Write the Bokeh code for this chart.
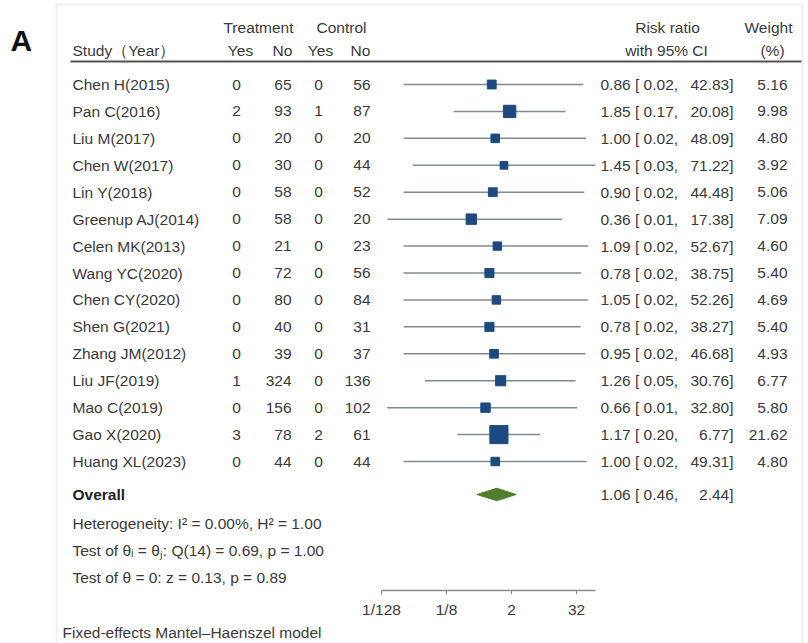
from bokeh.plotting import figure
from bokeh.models import (Range1d, LogScale, LogAxis, FixedTicker, ColumnDataSource,
                          BoxAnnotation)
from bokeh.core.properties import value
from bokeh.embed import file_html
from bokeh.resources import INLINE

# ---- study data -------------------------------------------------------------
studies = ["Chen H(2015)", "Pan C(2016)", "Liu M(2017)", "Chen W(2017)", "Lin Y(2018)",
           "Greenup AJ(2014)", "Celen MK(2013)", "Wang YC(2020)", "Chen CY(2020)",
           "Shen G(2021)", "Zhang JM(2012)", "Liu JF(2019)", "Mao C(2019)",
           "Gao X(2020)", "Huang XL(2023)"]
treat_yes = [0, 2, 0, 0, 0, 0, 0, 0, 0, 0, 0, 1, 0, 3, 0]
treat_no = [65, 93, 20, 30, 58, 58, 21, 72, 80, 40, 39, 324, 156, 78, 44]
ctrl_yes = [0, 1, 0, 0, 0, 0, 0, 0, 0, 0, 0, 0, 0, 2, 0]
ctrl_no = [56, 87, 20, 44, 52, 20, 23, 56, 84, 31, 37, 136, 102, 61, 44]
risk_ratio = [0.86, 1.85, 1.00, 1.45, 0.90, 0.36, 1.09, 0.78, 1.05, 0.78, 0.95, 1.26, 0.66, 1.17, 1.00]
ci_low = [0.02, 0.17, 0.02, 0.03, 0.02, 0.01, 0.02, 0.02, 0.02, 0.02, 0.02, 0.05, 0.01, 0.20, 0.02]
ci_high = [42.83, 20.08, 48.09, 71.22, 44.48, 17.38, 52.67, 38.75, 52.26, 38.27, 46.68, 30.76, 32.80, 6.77, 49.31]
weight = [5.16, 9.98, 4.80, 3.92, 5.06, 7.09, 4.60, 5.40, 4.69, 5.40, 4.93, 6.77, 5.80, 21.62, 4.80]

overall_rr, overall_low, overall_high = 1.06, 0.46, 2.44
axis_ticks = [1 / 128, 1 / 8, 2, 32]
axis_tick_labels = ["1/128", "1/8", "2", "32"]

# ---- layout -------------------------------------------------------------------
W, H = 808, 643
ROW_H = 26.93          # vertical distance between study rows (px)
FIRST_ROW_PX = 84      # pixel height of the first study row


def row_at(px):
    """Row units for a pixel height on the page (used for header/footer text)."""
    return 1 + (px - FIRST_ROW_PX) / ROW_H


FONT = value("Liberation Sans")
TXT = "#3a3a3a"
FS = "15.5px"

p = figure(width=W, height=H, x_range=Range1d(0, W),
           y_range=Range1d(row_at(H), row_at(0)),
           x_axis_type=None, y_axis_type=None,
           output_backend="svg", toolbar_location=None, min_border=0)
p.outline_line_color = None
p.background_fill_color = "white"
p.border_fill_color = "white"

# log scale for risk ratios: 1/128 sits at x=381 px, 16.25 px per doubling
PX0, PX_PER_LOG2 = 381.0, 16.25
p.extra_x_ranges = {"rr": Range1d(2 ** (-7 - PX0 / PX_PER_LOG2),
                                  2 ** (-7 + (W - PX0) / PX_PER_LOG2))}
p.extra_x_scales = {"rr": LogScale()}

# frame around the panel
p.add_layout(BoxAnnotation(left=56, right=802, top=row_at(4), bottom=row_at(H + 10),
                           fill_alpha=0, line_color="#c3d0df", line_width=2))

n = len(studies)
rows = list(range(1, n + 1))
overall_row = row_at(494)

src = ColumnDataSource(dict(
    study=studies, row=rows,
    ty=[str(v) for v in treat_yes], tn=[str(v) for v in treat_no],
    cy=[str(v) for v in ctrl_yes], cn=[str(v) for v in ctrl_no],
    rr=risk_ratio, lo=ci_low, hi=ci_high,
    ci_left=[f"{r:.2f} [{l:5.2f}," for r, l in zip(risk_ratio, ci_low)],
    ci_right=[f"{h:.2f}]" for h in ci_high],
    w=[f"{v:.2f}" for v in weight],
    msize=[3.9 * v ** 0.5 for v in weight],
))


def txt(x, y, text, align="left", size=FS, style="normal", color=TXT, source=None):
    kw = dict(text_font=FONT, text_font_size=size, text_align=align,
              text_baseline="middle", text_color=color, text_font_style=style)
    if source is not None:
        p.text(x=x, y=y, text=text, source=source, **kw)
    else:
        p.text(x=[x], y=[y], text=[text], **kw)


# panel letter
txt(10, row_at(40), "A", size="30px", style="bold", color="#111111")

# header
h1, h2 = row_at(27), row_at(50)
txt(258, h1, "Treatment", "center")
txt(341, h1, "Control", "center")
txt(72, h2, "Study（Year）")
txt(240, h2, "Yes", "center")
txt(282, h2, "No", "center")
txt(320, h2, "Yes", "center")
txt(360, h2, "No", "center")
txt(667, h1, "Risk ratio", "center")
txt(666, h2, "with 95% CI", "center")
txt(768, h1, "Weight", "center")
txt(772, h2, "(%)", "center")
hl = row_at(61)
p.line(x=[70, 801], y=[hl, hl], line_color="#555555", line_width=2)

# study columns
txt(72, "row", "study", source=src)
txt(236, "row", "ty", "center", source=src)
txt(291, "row", "tn", "right", source=src)
txt(318, "row", "cy", "center", source=src)
txt(370, "row", "cn", "right", source=src)
txt(600, "row", "ci_left", source=src)
txt(733, "row", "ci_right", "right", source=src)
txt(787, "row", "w", "right", source=src)

# confidence intervals and weighted point estimates
p.segment(x0="lo", y0="row", x1="hi", y1="row", source=src, x_range_name="rr",
          line_color="#808a94", line_width=1.5)
p.scatter(x="rr", y="row", size="msize", marker="square", source=src, x_range_name="rr",
          fill_color="#1c4a80", line_color="#1c4a80")

# overall estimate
dh = 0.23
p.patch(x=[overall_low, overall_rr, overall_high, overall_rr],
        y=[overall_row, overall_row - dh, overall_row, overall_row + dh],
        x_range_name="rr", fill_color="#4f7f2c", line_color="#4f7f2c")
txt(72, overall_row, "Overall", style="bold", color="#222222")
txt(600, overall_row, f"{overall_rr:.2f} [{overall_low:5.2f},")
txt(733, overall_row, f"{overall_high:.2f}]", "right")

txt(72, row_at(523), "Heterogeneity: I² = 0.00%, H² = 1.00")
txt(72, row_at(550), "Test of θᵢ = θⱼ: Q(14) = 0.69, p = 1.00")
txt(72, row_at(577), "Test of θ = 0: z = 0.13, p = 0.89")
txt(62, row_at(632), "Fixed-effects Mantel–Haenszel model")

# risk-ratio axis
axis = LogAxis(x_range_name="rr", ticker=FixedTicker(ticks=axis_ticks),
               bounds=(axis_ticks[0], max(ci_high)), fixed_location=row_at(590))
axis.major_label_overrides = {t: lab for t, lab in zip(axis_ticks, axis_tick_labels)}
axis.axis_line_color = "#8a8a8a"
axis.axis_line_width = 1.5
axis.major_tick_line_color = "#8a8a8a"
axis.major_tick_out = 4
axis.major_tick_in = 0
axis.minor_tick_out = 0
axis.minor_tick_in = 0
axis.major_label_text_font = "Liberation Sans"
axis.major_label_text_font_size = FS
axis.major_label_text_color = TXT
axis.major_label_standoff = 6
p.add_layout(axis, "below")

open("out.html", "w").write(file_html(p, INLINE))
